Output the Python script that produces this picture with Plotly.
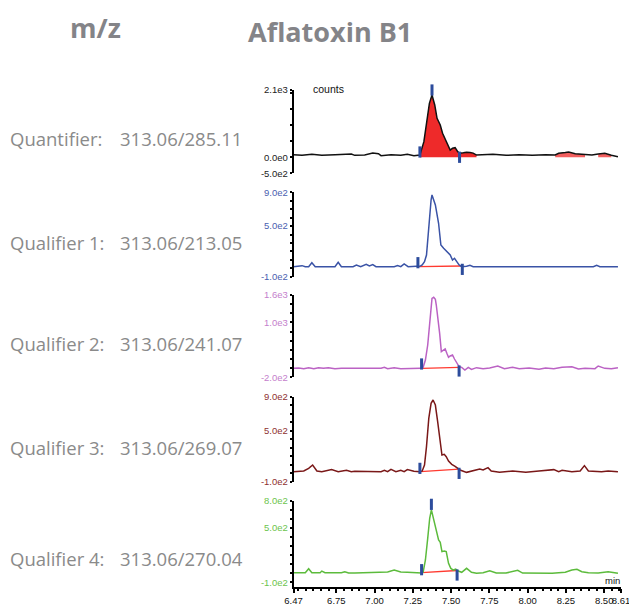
import plotly.graph_objects as go

# ---------------- data ----------------
x_tick_vals = [6.47, 6.75, 7.00, 7.25, 7.50, 7.75, 8.00, 8.25, 8.50, 8.61]
x_tick_text = ["6.47", "6.75", "7.00", "7.25", "7.50", "7.75", "8.00", "8.25", "8.50", "8.61"]

channel_names = ["Quantifier:", "Qualifier 1:", "Qualifier 2:", "Qualifier 3:", "Qualifier 4:"]
channel_mz = ["313.06/285.11", "313.06/213.05", "313.06/241.07", "313.06/269.07", "313.06/270.04"]

# Quantifier 313.06/285.11
q0_t = [6.470, 6.526, 6.590, 6.655, 6.741, 6.848, 6.870, 6.935, 6.988, 7.025, 7.042, 7.107, 7.171, 7.214,
        7.257, 7.289, 7.296, 7.322, 7.343, 7.358, 7.375, 7.393, 7.408, 7.429, 7.444, 7.462, 7.479, 7.494,
        7.509, 7.526, 7.543, 7.558, 7.580, 7.601, 7.623, 7.644, 7.666, 7.687, 7.773, 7.859, 7.945, 8.031,
        8.117, 8.180, 8.203, 8.246, 8.268, 8.311, 8.375, 8.420, 8.461, 8.504, 8.547, 8.590]
q0_v = [82, 61, 92, 61, 82, 103, 61, 72, 134, 113, 51, 82, 61, 92,
        51, 72, 70, 487, 1216, 1684, 1944, 1632, 1216, 1008, 749, 540, 384, 228,
        281, 300, 175, 125, 140, 160, 150, 130, 70, 72, 92, 61, 82, 61,
        82, 70, 124, 150, 166, 113, 92, 70, 103, 124, 61, 20]
q0_fill_windows = [(7.296, 7.666)]
q0_minor_fill_windows = [(8.180, 8.375), (8.461, 8.547)]

# Qualifier 1 313.06/213.05
q1_t = [6.470, 6.526, 6.547, 6.569, 6.590, 6.612, 6.741, 6.762, 6.783, 6.859, 6.881, 6.909, 6.945, 6.966,
        6.988, 7.009, 7.128, 7.150, 7.171, 7.193, 7.219, 7.279, 7.300, 7.311, 7.326, 7.339, 7.347, 7.358,
        7.369, 7.375, 7.386, 7.397, 7.418, 7.433, 7.451, 7.472, 7.494, 7.509, 7.522, 7.537, 7.552, 7.569,
        7.601, 7.623, 7.644, 8.429, 8.451, 8.472, 8.590]
q1_v = [19, 31, 19, 19, 66, 19, 19, 70, 19, 19, 39, 19, 47, 27,
        43, 19, 19, 31, 19, 51, 19, 19, 27, 39, 78, 157, 335, 612,
        809, 868, 809, 750, 533, 276, 236, 197, 157, 98, 118, 78, 39, 19,
        23, 35, 19, 19, 35, 19, 19]

# Qualifier 2 313.06/241.07
q2_t = [6.470, 6.504, 6.537, 6.569, 6.603, 6.633, 6.666, 6.698, 6.741, 6.783, 7.042, 7.064, 7.085, 7.128,
        7.171, 7.214, 7.300, 7.317, 7.332, 7.347, 7.360, 7.375, 7.386, 7.397, 7.403, 7.414, 7.425, 7.436,
        7.446, 7.461, 7.472, 7.483, 7.494, 7.509, 7.522, 7.537, 7.552, 7.569, 7.590, 7.612, 7.633, 7.666,
        7.709, 7.752, 7.805, 7.848, 7.902, 7.945, 8.010, 8.074, 8.117, 8.171, 8.225, 8.289, 8.332, 8.375,
        8.440, 8.461, 8.504, 8.547, 8.590]
q2_v = [-4, 3, -11, 11, -11, 11, -4, 11, -11, -4, -4, 18, -11, 11,
        -11, -4, -4, 18, 178, 506, 1053, 1527, 1549, 1505, 1381, 1126, 761, 361,
        382, 419, 324, 237, 266, 288, 200, 105, 32, 18, -40, 18, -26, 11,
        -11, 3, 47, -11, 18, -11, 3, -26, 3, -11, 18, 32, -19, -4,
        -11, 47, -4, -11, 11]

# Qualifier 3 313.06/269.07
q3_t = [6.470, 6.537, 6.569, 6.595, 6.623, 6.655, 6.719, 6.762, 6.816, 6.848, 6.870, 6.935, 7.042, 7.064,
        7.085, 7.107, 7.139, 7.171, 7.193, 7.214, 7.257, 7.296, 7.311, 7.326, 7.339, 7.354, 7.369, 7.382,
        7.397, 7.412, 7.429, 7.440, 7.455, 7.468, 7.483, 7.504, 7.526, 7.541, 7.558, 7.601, 7.644, 7.687,
        7.709, 7.741, 7.762, 7.816, 7.902, 7.988, 8.074, 8.171, 8.203, 8.225, 8.289, 8.343, 8.371, 8.397,
        8.483, 8.526, 8.590]
q3_v = [18, 26, 57, 96, 26, 18, 42, 18, 34, 18, 22, 18, 18, 34,
        18, 45, 18, 34, 18, 42, 22, 18, 26, 96, 312, 645, 822, 861,
        802, 606, 332, 214, 222, 194, 143, 104, 81, 57, 38, 10, 26, 49,
        38, 65, 26, 10, 26, 10, 26, 42, 18, 34, 18, 26, 89, 26,
        18, 26, 18]

# Qualifier 4 313.06/270.04
q4_t = [6.470, 6.504, 6.547, 6.569, 6.590, 6.644, 6.655, 6.676, 6.783, 6.805, 6.830, 6.870, 7.064, 7.085,
        7.128, 7.150, 7.171, 7.214, 7.279, 7.307, 7.317, 7.332, 7.347, 7.360, 7.371, 7.382, 7.393, 7.408,
        7.418, 7.429, 7.440, 7.455, 7.468, 7.483, 7.498, 7.515, 7.530, 7.547, 7.569, 7.601, 7.633, 7.666,
        7.709, 7.752, 7.795, 7.859, 7.935, 7.967, 8.053, 8.160, 8.246, 8.289, 8.322, 8.354, 8.397, 8.461,
        8.526, 8.590]
q4_v = [6, 6, 6, 50, 6, 6, 24, 6, 6, 17, 2, 2, 6, 13,
        35, 21, 13, 10, 2, 2, 10, 146, 385, 606, 698, 624, 532, 422,
        367, 341, 238, 245, 238, 109, 53, 35, 46, 24, 10, 54, 10, -1,
        6, 28, 2, 2, 32, 2, -1, -1, 10, 35, 43, 17, 6, 2,
        17, -1]

series_t = [q0_t, q1_t, q2_t, q3_t, q4_t]
series_v = [q0_v, q1_v, q2_v, q3_v, q4_v]

# peak markers: (start, apex, end) times and heights
marker_t = [[7.296, 7.375, 7.555], [7.283, 7.375, 7.573], [7.307, 7.371, 7.552],
            [7.296, 7.375, 7.552], [7.307, 7.371, 7.539]]
marker_v = [[165, 2100, 0], [66, 908, -13], [91, 1651, -62], [57, 920, -2], [39, 760, -20]]

# integration baselines (panels 2-5)
base_t = [None, [7.289, 7.569], [7.309, 7.552], [7.300, 7.552], [7.307, 7.539]]
base_v = [None, [19, 27], [-4, 18], [18, 47], [6, 30]]

# y axis ranges and labels
y_ranges = [[-500, 2100], [-100, 900], [-200, 1600], [-100, 900], [-152, 800]]
y_tick_vals = [[-500, 0, 2100], [-100, 500, 900], [-200, 1000, 1600], [-100, 500, 900], [-100, 500, 800]]
y_tick_text = [["-5.0e2", "0.0e0", "2.1e3"], ["-1.0e2", "5.0e2", "9.0e2"], ["-2.0e2", "1.0e3", "1.6e3"],
               ["-1.0e2", "5.0e2", "9.0e2"], ["-1.0e2", "5.0e2", "8.0e2"]]
y_minor_dtick = [500, 100, 200, 100, 100]

# ---------------- styling ----------------
W, H = 629, 607
line_colors = ["#111111", "#3a53a6", "#bb62c4", "#7a1818", "#5cbb3c"]
label_colors = ["#222222", "#4a60b0", "#c480cc", "#8e3030", "#6cc44c"]
marker_color = "#2c4c9c"
base_color = "#ff3a30"
fill_color = "#ee2a2a"
minor_fill_color = "rgba(238,42,42,0.75)"
gray = "#848488"

# pixel geometry (top/bottom pixel of each panel)
panel_px = [(90, 173.3), (192.3, 276.7), (295, 377.3), (396.7, 481.7), (500.7, 587)]
x_px = (293.5, 621)
label_y_px = [138, 242, 343, 447, 558]

tick_font = dict(family="Liberation Sans Narrow, Arial Narrow, Liberation Sans, Arial", size=9.5)

fig = go.Figure()

for i in range(5):
    ax = "" if i == 0 else str(i + 1)
    xa, ya = "x" + ax, "y" + ax
    t, v = series_t[i], series_v[i]
    if i == 0:
        for windows, col in ((q0_fill_windows, fill_color), (q0_minor_fill_windows, minor_fill_color)):
            for (a, b) in windows:
                ft = [tt for tt in t if a <= tt <= b]
                fv = [vv for tt, vv in zip(t, v) if a <= tt <= b]
                fig.add_trace(go.Scatter(x=ft, y=fv, mode="lines", fill="tozeroy",
                                         fillcolor=col, line=dict(width=0),
                                         xaxis=xa, yaxis=ya, hoverinfo="skip", showlegend=False))
    else:
        fig.add_trace(go.Scatter(x=base_t[i], y=base_v[i], mode="lines",
                                 line=dict(color=base_color, width=1.3),
                                 xaxis=xa, yaxis=ya, showlegend=False, hoverinfo="skip"))
    fig.add_trace(go.Scatter(x=t, y=v, mode="lines", line=dict(color=line_colors[i], width=1.5),
                             xaxis=xa, yaxis=ya, showlegend=False))
    fig.add_trace(go.Scatter(x=marker_t[i], y=marker_v[i], mode="markers",
                             marker=dict(symbol="line-ns", size=8,
                                         line=dict(color=marker_color, width=3)),
                             cliponaxis=False, xaxis=xa, yaxis=ya, showlegend=False, hoverinfo="skip"))

    top, bot = panel_px[i]
    fig.layout["xaxis" + ax] = dict(
        domain=[x_px[0] / W, x_px[1] / W], range=[6.47, 8.61], anchor=ya,
        visible=(i == 4), showgrid=False, zeroline=False, automargin=False,
        showline=True, linecolor="black", linewidth=1.5,
        ticks="outside", ticklen=4, tickwidth=1.5, tickcolor="black",
        tickmode="array", tickvals=x_tick_vals, ticktext=x_tick_text,
        tickangle=0, ticklabeloverflow="allow",
        tickfont=dict(tick_font, color="#111111"),
        minor=dict(ticks="outside", ticklen=2.5, tickwidth=1.5, dtick=0.05, tick0=6.5,
                   tickcolor="black", showgrid=False),
    )
    fig.layout["yaxis" + ax] = dict(
        domain=[1 - bot / H, 1 - top / H], range=y_ranges[i], anchor=xa,
        showgrid=False, zeroline=False, automargin=False,
        showline=True, linecolor="black", linewidth=1.5,
        ticks="outside", ticklen=2, tickwidth=1.5, tickcolor="black",
        tickmode="array", tickvals=y_tick_vals[i], ticktext=y_tick_text[i],
        tickangle=0, ticklabeloverflow="allow",
        tickfont=dict(tick_font, color=label_colors[i]),
        minor=dict(ticks="outside", ticklen=2, tickwidth=1.5, dtick=y_minor_dtick[i],
                   tick0=0, tickcolor="black", showgrid=False),
    )

annotations = []
annotations.append(dict(text="<b>m/z</b>", x=95 / W, y=1 - 28 / H, xref="paper", yref="paper",
                        xanchor="center", yanchor="middle", showarrow=False,
                        font=dict(family="Open Sans", size=27, color=gray)))
annotations.append(dict(text="<b>Aflatoxin B1</b>", x=330 / W, y=1 - 32 / H, xref="paper", yref="paper",
                        xanchor="center", yanchor="middle", showarrow=False,
                        font=dict(family="Open Sans", size=27, color=gray)))
for i in range(5):
    annotations.append(dict(text=channel_names[i], x=8 / W, y=1 - label_y_px[i] / H,
                            xref="paper", yref="paper", xanchor="left", yanchor="middle",
                            showarrow=False, font=dict(family="Open Sans", size=18.5, color="#8a8a8a")))
    annotations.append(dict(text=channel_mz[i], x=118 / W, y=1 - label_y_px[i] / H,
                            xref="paper", yref="paper", xanchor="left", yanchor="middle",
                            showarrow=False, font=dict(family="Open Sans", size=18.5, color="#8a8a8a")))
annotations.append(dict(text="counts", x=311 / W, y=1 - 89 / H, xref="paper", yref="paper",
                        xanchor="left", yanchor="middle", showarrow=False,
                        font=dict(tick_font, size=10.5, color="#111111")))
annotations.append(dict(text="min", x=622 / W, y=1 - 580 / H, xref="paper", yref="paper",
                        xanchor="right", yanchor="middle", showarrow=False,
                        font=dict(tick_font, color="#111111")))

fig.update_layout(width=W, height=H, autosize=False,
                  margin=dict(l=0, r=0, t=0, b=0, pad=0, autoexpand=False),
                  paper_bgcolor="white", plot_bgcolor="white",
                  annotations=annotations, showlegend=False)

fig.write_html("out.html", config={"displayModeBar": False},
               post_script="document.body.style.margin='0';")
